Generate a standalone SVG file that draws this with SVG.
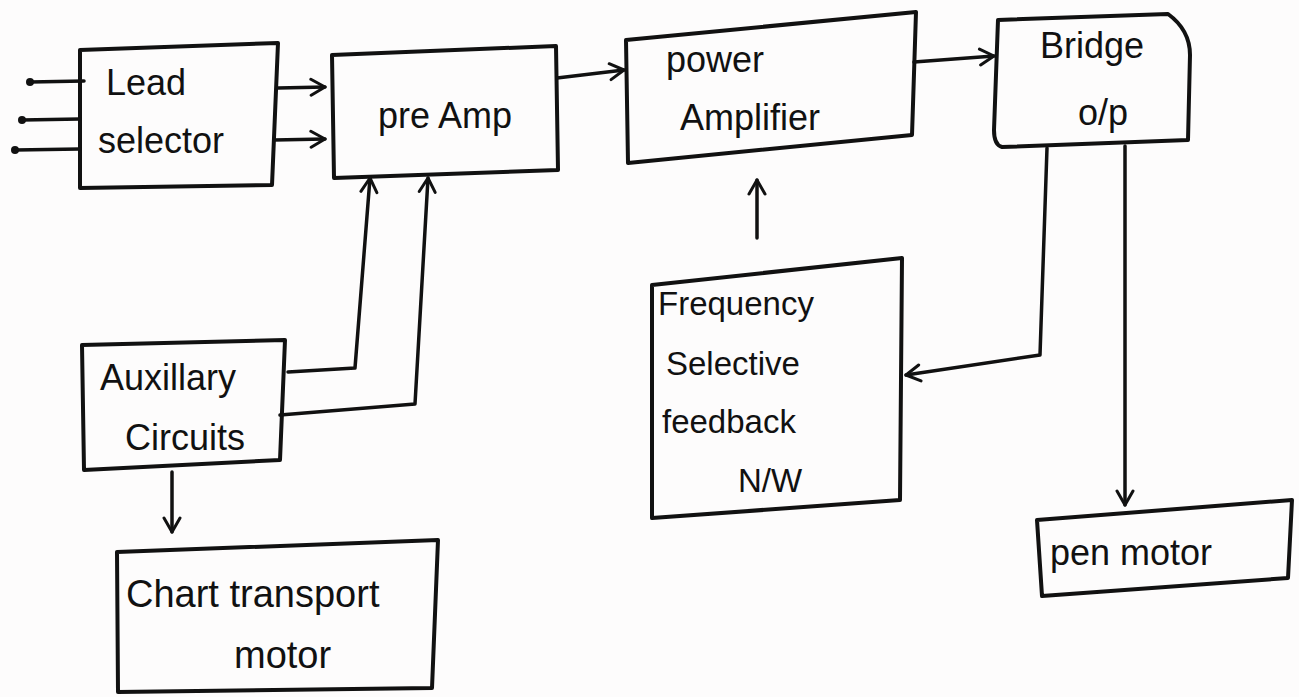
<svg xmlns="http://www.w3.org/2000/svg" width="1299" height="697" viewBox="0 0 1299 697">
<style>
.box{fill:none;stroke:#111;stroke-width:4;stroke-linejoin:round;stroke-linecap:round}
.ln{fill:none;stroke:#111;stroke-width:3.5;stroke-linecap:round;stroke-linejoin:round}
.t{font-family:"Liberation Sans",Arial,sans-serif;font-size:36px;fill:#111}
</style>
<defs>
<marker id="ah" viewBox="0 0 20 20" refX="18" refY="10" markerWidth="20" markerHeight="20" markerUnits="userSpaceOnUse" orient="auto">
<path d="M4,2 L18,10 L4,18" fill="none" stroke="#111" stroke-width="3" stroke-linecap="round" stroke-linejoin="round"/>
</marker>
</defs>
<rect width="1299" height="697" fill="#fdfcfc"/>
<g id="lead-selector">
<path class="box" d="M80,50 L278,43 L272,185 L80,188 Z"/>
<text class="t" x="106" y="95">Lead</text>
<text class="t" x="98" y="153">selector</text>
</g>
<g id="pre-amp">
<path class="box" d="M332,55 L556,46 L558,170 L334,178 Z"/>
<text class="t" x="378" y="128">pre Amp</text>
</g>
<g id="power-amplifier">
<path class="box" d="M626,40 L916,12 L912,135 L628,163 Z"/>
<text class="t" x="666" y="72">power</text>
<text class="t" x="680" y="130">Amplifier</text>
</g>
<g id="bridge-op">
<path class="box" d="M998,20 L1168,14 Q1190,30 1190,55 L1188,140 L1002,147 Q994,145 994,130 Z"/>
<text class="t" x="1040" y="58">Bridge</text>
<text class="t" x="1078" y="125">o/p</text>
</g>
<g id="frequency-selective">
<path class="box" d="M652,285 L902,258 L900,500 L652,518 Z"/>
<text class="t" x="658" y="315" style="font-size:33px">Frequency</text>
<text class="t" x="666" y="375" style="font-size:33px">Selective</text>
<text class="t" x="662" y="433" style="font-size:33px">feedback</text>
<text class="t" x="738" y="492" style="font-size:33px">N/W</text>
</g>
<g id="pen-motor">
<path class="box" d="M1037,520 L1292,500 L1288,578 L1042,596 Z"/>
<text class="t" x="1050" y="565">pen motor</text>
</g>
<g id="auxillary-circuits">
<path class="box" d="M82,345 L285,340 L280,460 L84,470 Z"/>
<text class="t" x="100" y="390">Auxillary</text>
<text class="t" x="125" y="450">Circuits</text>
</g>
<g id="chart-transport-motor">
<path class="box" d="M117,552 L438,540 L432,688 L118,692 Z"/>
<text class="t" x="126" y="607" style="font-size:38px">Chart transport</text>
<text class="t" x="234" y="668" style="font-size:38px">motor</text>
</g>
<g id="connectors">
<circle cx="30" cy="82" r="4" fill="#111"/>
<circle cx="22" cy="120" r="4" fill="#111"/>
<circle cx="15" cy="150" r="4" fill="#111"/>
<path class="ln" d="M30,82 L84,81"/>
<path class="ln" d="M22,120 L80,119"/>
<path class="ln" d="M15,150 L80,149"/>
<path class="ln" d="M278,88 L325,87" marker-end="url(#ah)"/>
<path class="ln" d="M274,140 L325,139" marker-end="url(#ah)"/>
<path class="ln" d="M557,78 L624,70" marker-end="url(#ah)"/>
<path class="ln" d="M914,62 L994,56" marker-end="url(#ah)"/>
<path class="ln" d="M757,238 L757,180" marker-end="url(#ah)"/>
<path class="ln" d="M1047,148 L1040,355 L906,375" marker-end="url(#ah)"/>
<path class="ln" d="M1125,146 L1125,505" marker-end="url(#ah)"/>
<path class="ln" d="M288,372 L355,368 L370,178" marker-end="url(#ah)"/>
<path class="ln" d="M280,415 L415,404 L428,178" marker-end="url(#ah)"/>
<path class="ln" d="M172,472 L172,532" marker-end="url(#ah)"/>
</g>
</svg>
